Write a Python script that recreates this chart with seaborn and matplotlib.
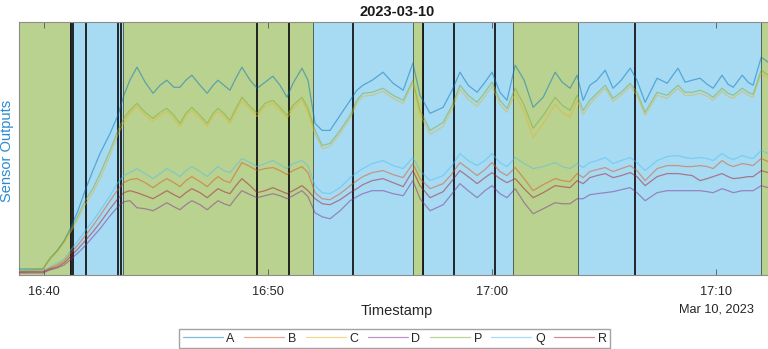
import pandas as pd
import matplotlib
matplotlib.use("Agg")
import matplotlib.pyplot as plt
import matplotlib.dates as mdates
import seaborn as sns

day = "2023-03-10"

# Sample timestamps (shared by all sensors)
times = [
    "16:38:53", "16:39:57", "16:40:16", "16:40:35", "16:40:54", "16:41:10", "16:41:31", "16:41:50", "16:42:11", "16:42:30",
    "16:42:57", "16:43:18", "16:43:34", "16:43:50", "16:44:09", "16:44:31", "16:44:52", "16:45:11", "16:45:29", "16:45:48",
    "16:46:04", "16:46:20", "16:46:36", "16:46:58", "16:47:17", "16:47:33", "16:47:46", "16:48:02", "16:48:18", "16:48:34",
    "16:48:50", "16:49:12", "16:49:31", "16:49:52", "16:50:13", "16:50:32", "16:50:51", "16:51:07", "16:51:31", "16:51:47",
    "16:52:06", "16:52:25", "16:52:46", "16:53:13", "16:53:40", "16:53:58", "16:54:14", "16:54:39", "16:55:08", "16:55:35",
    "16:56:02", "16:56:28", "16:56:47", "16:57:14", "16:57:49", "16:58:13", "16:58:34", "16:58:56", "16:59:20", "16:59:41",
    "17:00:00", "17:00:21", "17:00:40", "17:01:02", "17:01:26", "17:01:50", "17:02:17", "17:02:49", "17:03:08", "17:03:29",
    "17:03:48", "17:04:04", "17:04:22", "17:04:41", "17:05:03", "17:05:24", "17:05:46", "17:06:10", "17:06:28", "17:06:50",
    "17:07:22", "17:07:49", "17:08:18", "17:08:37", "17:08:56", "17:09:17", "17:09:36", "17:09:52", "17:10:16", "17:10:32",
    "17:10:46", "17:11:10", "17:11:26", "17:11:39", "17:12:01", "17:12:19",
]

sensor_a = [
    6, 6, 16, 24, 34, 46, 64, 84, 104, 121,
    141, 159, 179, 194, 207, 192, 181, 189, 194, 187,
    187, 194, 199, 189, 181, 189, 194, 189, 184, 196,
    207, 194, 186, 192, 198, 189, 177, 191, 206, 194,
    151, 144, 144, 159, 174, 184, 189, 194, 202, 191,
    184, 211, 179, 161, 167, 184, 202, 189, 182, 192,
    202, 182, 174, 209, 194, 167, 177, 202, 192, 186,
    199, 174, 189, 194, 204, 186, 194, 206, 194, 172,
    196, 191, 206, 192, 194, 196, 190, 186, 199, 190,
    187, 199, 192, 189, 217, 212,
]
sensor_b = [
    3, 4, 7, 10, 14, 21, 30, 39, 49, 59,
    74, 85, 92, 95, 96, 92, 87, 92, 96, 92,
    88, 94, 98, 93, 88, 94, 98, 94, 92, 102,
    112, 108, 104, 106, 107, 104, 100, 104, 108, 102,
    82, 76, 75, 81, 89, 94, 98, 102, 104, 100,
    97, 111, 96, 86, 91, 101, 112, 106, 99, 105,
    112, 103, 99, 107, 96, 84, 90, 96, 94, 93,
    101, 97, 103, 105, 107, 103, 106, 109, 104, 94,
    106, 109, 109, 108, 108, 109, 108, 106, 114, 110,
    108, 111, 110, 109, 116, 113,
]
sensor_c = [
    4, 5, 16, 23, 32, 42, 56, 70, 82, 96,
    119, 140, 152, 161, 168, 159, 153, 159, 163, 156,
    148, 158, 164, 156, 148, 158, 163, 158, 151, 163,
    174, 165, 158, 168, 171, 164, 156, 166, 174, 162,
    140, 126, 128, 141, 156, 171, 178, 179, 183, 176,
    171, 191, 160, 140, 148, 165, 185, 175, 168, 178,
    188, 170, 162, 181, 162, 137, 151, 170, 162, 157,
    174, 160, 170, 178, 186, 173, 179, 188, 179, 159,
    179, 176, 186, 179, 179, 181, 178, 174, 183, 178,
    176, 183, 179, 177, 201, 196,
]
sensor_d = [
    2, 2, 5, 7, 10, 15, 22, 29, 38, 46,
    59, 68, 73, 74, 67, 66, 64, 68, 72, 68,
    65, 70, 74, 70, 65, 70, 74, 71, 69, 77,
    84, 80, 77, 79, 81, 79, 76, 79, 84, 78,
    62, 58, 56, 64, 74, 78, 81, 84, 84, 81,
    79, 94, 76, 64, 70, 81, 91, 84, 77, 84,
    89, 81, 77, 86, 72, 61, 66, 72, 71, 71,
    76, 76, 80, 81, 82, 83, 85, 87, 82, 74,
    82, 84, 84, 84, 84, 84, 83, 82, 86, 84,
    82, 84, 84, 84, 89, 87,
]
sensor_p = [
    4, 6, 17, 24, 34, 44, 59, 74, 86, 101,
    124, 144, 156, 164, 171, 162, 156, 162, 166, 159,
    151, 161, 167, 159, 151, 161, 166, 161, 154, 166,
    177, 168, 161, 171, 174, 167, 159, 169, 177, 166,
    144, 129, 131, 144, 159, 174, 181, 182, 186, 179,
    174, 194, 164, 144, 152, 169, 189, 179, 172, 182,
    192, 174, 166, 186, 169, 146, 159, 177, 169, 164,
    179, 164, 174, 181, 189, 176, 182, 191, 182, 162,
    182, 179, 189, 182, 182, 184, 181, 177, 186, 181,
    179, 186, 182, 180, 204, 199,
]
sensor_q = [
    4, 4, 8, 12, 16, 24, 34, 44, 54, 64,
    79, 92, 99, 102, 106, 101, 96, 101, 106, 102,
    98, 104, 108, 103, 98, 104, 108, 104, 102, 109,
    116, 112, 108, 111, 114, 110, 106, 111, 114, 109,
    89, 82, 81, 87, 97, 102, 106, 111, 114, 109,
    106, 117, 104, 94, 99, 109, 121, 114, 109, 114,
    121, 112, 108, 117, 111, 106, 108, 112, 108, 106,
    111, 107, 112, 114, 117, 111, 114, 117, 112, 104,
    114, 118, 119, 117, 116, 117, 116, 114, 121, 117,
    115, 119, 117, 116, 124, 121,
]
sensor_r = [
    3, 3, 6, 8, 12, 18, 26, 34, 43, 52,
    66, 76, 82, 84, 82, 79, 76, 80, 84, 80,
    77, 82, 86, 82, 77, 82, 86, 83, 81, 89,
    96, 89, 82, 84, 87, 84, 81, 84, 89, 84,
    76, 71, 70, 75, 82, 86, 90, 94, 96, 92,
    88, 104, 89, 77, 83, 94, 104, 98, 91, 97,
    102, 96, 92, 96, 86, 77, 82, 89, 88, 87,
    94, 91, 97, 99, 101, 97, 99, 102, 98, 89,
    98, 101, 101, 100, 99, 94, 96, 98, 101, 98,
    96, 97, 98, 98, 104, 102,
]

sensor_names = ["A", "B", "C", "D", "P", "Q", "R"]
sensor_colors = ["#0072BD", "#D95319", "#EDB120", "#7E2F8E", "#77AC30", "#4DBEEE", "#A2142F"]

# Operating state intervals shown as background bands
state_starts = ["16:38:30", "16:41:10", "16:43:32", "16:52:00", "16:56:28", "16:56:55", "17:00:56", "17:03:50", "17:12:01"]
state_ends = ["16:41:10", "16:43:32", "16:52:00", "16:56:28", "16:56:55", "17:00:56", "17:03:50", "17:12:01", "17:13:00"]
state_kinds = ["on", "off", "on", "off", "on", "off", "on", "off", "on"]
state_colors = {"on": "#BAD290", "off": "#A7DBF3"}

# Event markers
event_times = ["16:41:12", "16:41:19", "16:41:52", "16:43:18", "16:43:26", "16:49:31",
               "16:50:57", "16:53:47", "16:56:56", "16:58:18", "17:00:09", "17:06:22"]


def stamp(t):
    return pd.to_datetime(f"{day} {t}")


sns.set_style("white")
plt.rcParams["font.family"] = ["Liberation Sans", "DejaVu Sans"]

wide = pd.DataFrame({"Timestamp": [stamp(t) for t in times]})
for name, vals in zip(sensor_names, [sensor_a, sensor_b, sensor_c, sensor_d, sensor_p, sensor_q, sensor_r]):
    wide[name] = vals
long = wide.melt(id_vars="Timestamp", var_name="Sensor", value_name="Output")

fig = plt.figure(figsize=(7.68, 3.49), dpi=100)
ax = fig.add_axes([0.0247, 0.212, 0.985, 0.725])

sns.lineplot(data=long, x="Timestamp", y="Output", hue="Sensor",
             palette=dict(zip(sensor_names, sensor_colors)), estimator=None,
             linewidth=0.9, alpha=0.5, legend=False, ax=ax, zorder=3)
series_lines = list(ax.lines)

for s, e, k in zip(state_starts, state_ends, state_kinds):
    ax.axvspan(stamp(s), stamp(e), facecolor=state_colors[k], edgecolor="#4b5a4b",
               linewidth=0.6, zorder=0)
for t in event_times:
    ax.axvline(stamp(t), color="#111111", linewidth=1.4, alpha=0.9, zorder=2)

ax.set_xlim(stamp("16:38:53"), stamp("17:12:39"))
ax.set_ylim(0, 252)
ax.set_yticks([])
ax.xaxis.set_major_locator(mdates.MinuteLocator(byminute=range(0, 60, 10)))
ax.xaxis.set_major_formatter(mdates.DateFormatter("%H:%M"))
ax.tick_params(axis="x", direction="in", length=4, width=0.6, color="#555555",
               top=True, bottom=True, labelsize=9.2, labelcolor="#262626", pad=8)
for sp in ax.spines.values():
    sp.set_color("#8c8c8c")
    sp.set_linewidth(0.8)

ax.set_title("2023-03-10", fontsize=10.5, fontweight="bold", color="#1a1a1a", pad=4)
ax.set_xlabel("Timestamp", fontsize=10.5, color="#262626", labelpad=4)
ax.set_ylabel("Sensor Outputs", fontsize=10.5, color="#2a8ad2")
ax.yaxis.set_label_coords(-0.006, 0.49)
ax.text(stamp("17:10:00"), -0.135, "Mar 10, 2023", transform=ax.get_xaxis_transform(),
        ha="center", va="center", fontsize=9.2, color="#262626")

fig.legend(handles=series_lines, labels=sensor_names, loc="center",
           bbox_to_anchor=(0.514, 0.030), ncol=7, fontsize=9, frameon=True,
           fancybox=False, edgecolor="#8c8c8c", handlelength=3.2, handletextpad=0.3,
           columnspacing=0.75, borderpad=0.25, borderaxespad=0)

fig.savefig("out.png", dpi=100)
